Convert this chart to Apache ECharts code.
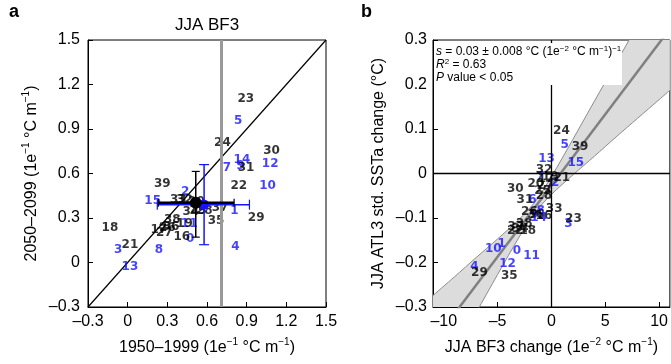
<!DOCTYPE html>
<html><head><meta charset="utf-8">
<script src="https://cdn.jsdelivr.net/npm/echarts@6/dist/echarts.min.js"></script>
<style>html,body{margin:0;padding:0;background:#fff}#c{width:671px;height:364px}</style>
</head><body><div id="c"></div>
<script>
// ---------- data ----------
const modelIds = ['0','1','2','3','4','5','6','7','8','9','10','11','12','13','14','15','16','17','18','19','20','21','22','23','24','25','26','27','28','29','30','31','32','33','34','35','36','37','38','39'];
// panel a: BF3 1950–1999 vs 2050–2099
const aX = [0.472,0.808,0.434,-0.071,0.815,0.836,0.560,0.750,0.237,0.853,1.058,0.465,1.078,0.017,0.864,0.189,0.409,0.235,-0.134,0.430,0.520,0.017,0.841,0.893,0.717,0.530,0.300,0.277,0.580,0.972,1.088,0.895,0.430,0.383,0.477,0.669,0.328,0.699,0.338,0.262];
const aY = [0.158,0.351,0.475,0.086,0.108,0.957,0.380,0.637,0.086,0.652,0.518,0.261,0.664,-0.031,0.693,0.417,0.173,0.218,0.234,0.262,0.410,0.120,0.518,1.100,0.806,0.345,0.235,0.198,0.349,0.300,0.750,0.640,0.420,0.423,0.340,0.282,0.243,0.367,0.284,0.529];
// ensemble means with spread (blue group, black group)
const meanX = [0.578, 0.515];
const meanY = [0.390, 0.403];
const meanXLo = [0.224, 0.232];
const meanXHi = [0.921, 0.805];
const meanYLo = [0.120, 0.171];
const meanYHi = [0.660, 0.614];
const obsBF3 = 0.712;
const diagA = [[-0.3,-0.3],[1.5,1.5]];
// panel b: BF3 change vs ATL3 std change
const bX = [-3.2,-4.63,0.34,1.57,-7.16,1.24,-1.76,-1.05,-1.0,-1.6,-5.4,-1.85,-4.07,-0.46,-1.2,2.26,-0.70,-0.5,-2.2,-0.1,-1.45,0.96,-3.35,2.04,0.93,-0.83,-2.06,-0.58,-0.68,-6.69,-3.36,-2.46,-0.68,0.25,-2.9,-3.92,-1.45,-3.3,-2.53,2.66];
const bY = [-0.174,-0.158,-0.021,-0.114,-0.210,0.064,-0.060,-0.008,-0.083,-0.093,-0.169,-0.186,-0.204,0.032,-0.100,0.023,-0.096,-0.012,-0.130,-0.008,-0.023,-0.010,-0.130,-0.103,0.096,-0.038,-0.086,-0.027,-0.050,-0.224,-0.034,-0.060,0.009,-0.079,-0.125,-0.229,-0.094,-0.120,-0.114,0.060];
const fitX = [-11, 11];
const fitY = [-0.379, 0.325];
const bandX  = [-11,-9,-7,-5,-3,-1.5,0,2,4,6,8,10,11];
const bandLo = [-0.484,-0.398,-0.313,-0.227,-0.143,-0.087,-0.047,-0.003,0.039,0.082,0.124,0.166,0.187];
const bandHi = [-0.274,-0.232,-0.189,-0.147,-0.103,-0.063,-0.007,0.077,0.163,0.248,0.334,0.420,0.463];
const ticksBx = [-10,-5,0,5,10];

// ---------- styles ----------
const FONT = 'Liberation Sans';
const LFONT = 'DejaVu Sans';
const BLUE = '#1414ff';
const colorOf = i => (i < 16 ? BLUE : '#000');
const fmt = v => Math.abs(v) < 1e-9 ? '0' : (v < 0 ? '–' : '') + Math.abs(v).toFixed(1);
const fmtInt = v => Math.abs(v) < 1e-9 ? '0' : (v < 0 ? '–' : '') + Math.abs(v).toFixed(0);
const nameStyle = {fontSize:16, fontFamily:FONT, color:'#000', lineHeight:22,
  rich:{s:{fontSize:10, fontFamily:FONT, color:'#000', verticalAlign:'top', lineHeight:10}}};
const axisCommon = (extra) => Object.assign({
  type:'value',
  axisLine:{show:true, onZero:false, lineStyle:{color:'#000', width:1}},
  axisTick:{show:true, inside:true, length:5, lineStyle:{color:'#000'}},
  axisLabel:{fontSize:16, fontFamily:FONT, color:'#000'},
  splitLine:{show:false},
  nameLocation:'middle', nameTextStyle:nameStyle
}, extra);

const labelData = (xs, ys) => xs.map((x, i) => ({
  name: modelIds[i], value:[x, ys[i]],
  label:{color: colorOf(i)}
}));
const labelSeries = (xi, xs, ys) => ({
  type:'scatter', xAxisIndex:xi, yAxisIndex:xi, symbolSize:1,
  itemStyle:{color:'rgba(0,0,0,0)'}, silent:true,
  label:{show:true, position:'inside', formatter:p=>p.name, fontFamily:LFONT, fontWeight:'bold', fontSize:12, textBorderWidth:0},
  data: labelData(xs, ys), z:3
});
const meanStyles = [{color:BLUE, hw:1.5, vw:1.5, cap:5, r:5}, {color:'#000', hw:2.5, vw:1.5, cap:4, r:6}];

const option = {
  animation:false,
  grid:[
    {left:88, top:40, width:238, height:267, show:true, borderColor:'#000', borderWidth:1},
    {left:433, top:40, width:239, height:267, show:true, borderColor:'#000', borderWidth:1}
  ],
  xAxis:[
    axisCommon({gridIndex:0, min:-0.3, max:1.5, interval:0.3, axisLabel:{fontSize:16, fontFamily:FONT, color:'#000', formatter:fmt, margin:7},
      name:'1950–1999 (1e{s|−1} °C m{s|−1})', nameGap:30}),
    axisCommon({gridIndex:1, min:-11, max:11,
      axisTick:{show:true, inside:true, length:5, lineStyle:{color:'#000'}, customValues:ticksBx},
      axisLabel:{fontSize:16, fontFamily:FONT, color:'#000', formatter:fmtInt, margin:7, customValues:ticksBx},
      name:'JJA BF3 change (1e{s|−2} °C m{s|−1})', nameGap:30})
  ],
  yAxis:[
    axisCommon({gridIndex:0, min:-0.3, max:1.5, interval:0.3, axisLabel:{fontSize:16, fontFamily:FONT, color:'#000', formatter:fmt, margin:8},
      name:'2050–2099 (1e{s|−1} °C m{s|−1})', nameGap:45}),
    axisCommon({gridIndex:1, min:-0.3, max:0.3, interval:0.1, axisLabel:{fontSize:16, fontFamily:FONT, color:'#000', formatter:fmt, margin:6},
      name:'JJA ATL3 std. SSTa change (°C)', nameGap:43})
  ],
  series:[
    {type:'line', xAxisIndex:0, yAxisIndex:0, data:diagA, symbol:'none', silent:true,
      lineStyle:{color:'#000', width:1.2}, z:2,
      markLine:{silent:true, symbol:'none', label:{show:false}, animation:false,
        lineStyle:{color:'#999', width:3, type:'solid'}, data:[{xAxis:obsBF3}]}},
    labelSeries(0, aX, aY),
    {type:'custom', xAxisIndex:0, yAxisIndex:0, silent:true, z:5,
      data: meanX.map((x,i)=>[x, meanY[i], meanXLo[i], meanXHi[i], meanYLo[i], meanYHi[i]]),
      renderItem:(params, api)=>{
        const st = meanStyles[params.dataIndex];
        const x = api.value(0), y = api.value(1);
        const c = api.coord([x,y]);
        const l = api.coord([api.value(2), y]), r = api.coord([api.value(3), y]);
        const b = api.coord([x, api.value(4)]), t = api.coord([x, api.value(5)]);
        const ls = w => ({stroke:st.color, lineWidth:w});
        return {type:'group', children:[
          {type:'line', shape:{x1:l[0],y1:l[1],x2:r[0],y2:r[1]}, style:ls(st.hw)},
          {type:'line', shape:{x1:l[0],y1:l[1]-st.cap,x2:l[0],y2:l[1]+st.cap}, style:ls(1.2)},
          {type:'line', shape:{x1:r[0],y1:r[1]-st.cap,x2:r[0],y2:r[1]+st.cap}, style:ls(1.2)},
          {type:'line', shape:{x1:t[0],y1:t[1],x2:b[0],y2:b[1]}, style:ls(st.vw)},
          {type:'line', shape:{x1:t[0]-st.cap,y1:t[1],x2:t[0]+st.cap,y2:t[1]}, style:ls(1.2)},
          {type:'line', shape:{x1:b[0]-st.cap,y1:b[1],x2:b[0]+st.cap,y2:b[1]}, style:ls(1.2)},
          {type:'circle', shape:{cx:c[0], cy:c[1], r:st.r}, style:{fill:st.color}}
        ]};
      }},
    {type:'custom', xAxisIndex:1, yAxisIndex:1, silent:true, clip:true, z:1, data:[[0,0]],
      renderItem:(params, api)=>{
        const pts = [];
        for (let i=0;i<bandX.length;i++) pts.push(api.coord([bandX[i], bandHi[i]]));
        for (let i=bandX.length-1;i>=0;i--) pts.push(api.coord([bandX[i], bandLo[i]]));
        return {type:'polygon', shape:{points:pts}, style:{fill:'#dcdcdc', stroke:null}};
      }},
    {type:'line', xAxisIndex:1, yAxisIndex:1, data:bandX.map((x,i)=>[x,bandHi[i]]), smooth:0.3, symbol:'none', silent:true,
      lineStyle:{color:'#8c8c8c', width:1}, z:1.5},
    {type:'line', xAxisIndex:1, yAxisIndex:1, data:bandX.map((x,i)=>[x,bandLo[i]]), smooth:0.3, symbol:'none', silent:true,
      lineStyle:{color:'#8c8c8c', width:1}, z:1.5},
    {type:'line', xAxisIndex:1, yAxisIndex:1, data:fitX.map((x,i)=>[x,fitY[i]]), symbol:'none', silent:true,
      lineStyle:{color:'#808080', width:2.5}, z:2,
      markLine:{silent:true, symbol:'none', label:{show:false}, animation:false,
        lineStyle:{color:'#000', width:1.3, type:'solid'}, data:[{xAxis:0},{yAxis:0}]}},
    labelSeries(1, bX, bY)
  ],
  graphic:[
    {type:'text', left:9, top:3, z:100, style:{text:'a', fontSize:18, fontWeight:'bold', fontFamily:FONT, fill:'#000'}},
    {type:'text', left:361, top:3, z:100, style:{text:'b', fontSize:18, fontWeight:'bold', fontFamily:FONT, fill:'#000'}},
    {type:'text', x:207, y:25, z:100, style:{text:'JJA BF3', fontSize:17, fontFamily:FONT, fill:'#000', textAlign:'center', textVerticalAlign:'middle'}},
    {type:'rect', z:100, shape:{x:434, y:43, width:188, height:42}, style:{fill:'#fff'}},
    {type:'text', x:436, y:45, z:101, style:{
      text:'{i|s} = 0.03 ± 0.008 °C (1e{s|−2} °C m{s|−1}){s|−1}\n{i|R}{s|2} = 0.63\n{i|P} value < 0.05',
      fontSize:12, fontFamily:FONT, fill:'#000', lineHeight:13,
      rich:{i:{fontStyle:'italic', fontSize:12, fontFamily:FONT, lineHeight:13},
            s:{fontSize:8, fontFamily:FONT, verticalAlign:'top', lineHeight:8}}}}
  ]
};
const chart = echarts.init(document.getElementById('c'));
chart.setOption(option);
</script></body></html>
